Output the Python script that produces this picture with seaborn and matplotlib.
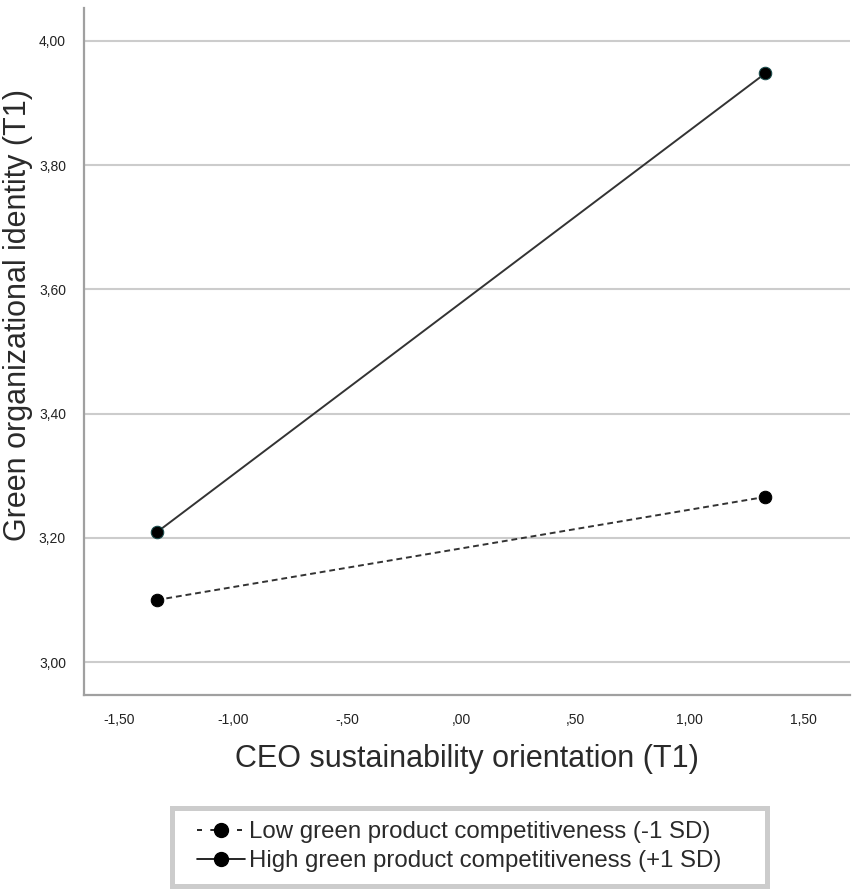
import pandas as pd
import matplotlib.pyplot as plt
import seaborn as sns
from matplotlib.lines import Line2D
from matplotlib.legend_handler import HandlerLine2D

# CEO sustainability orientation at -1 SD / +1 SD
x_values = [-1.335, 1.335]
low_values = [3.10, 3.266]
high_values = [3.209, 3.948]
groups = ['Low green product competitiveness (-1 SD)',
          'High green product competitiveness (+1 SD)']
x_ticks = [-1.5, -1.0, -0.5, 0.0, 0.5, 1.0, 1.5]
x_tick_labels = ['-1,50', '-1,00', '-,50', ',00', ',50', '1,00', '1,50']
y_ticks = [3.0, 3.2, 3.4, 3.6, 3.8, 4.0]
y_tick_labels = ['3,00', '3,20', '3,40', '3,60', '3,80', '4,00']

df = pd.DataFrame({
    'x': x_values * 2,
    'y': low_values + high_values,
    'group': [groups[0]] * 2 + [groups[1]] * 2,
})

sns.set_style('white')
plt.rcParams['font.family'] = ['Liberation Sans', 'DejaVu Sans']

fig = plt.figure(figsize=(8.53, 8.93), dpi=100)
ax = fig.add_axes([0.0985, 0.2217, 0.898, 0.7693])

sns.lineplot(data=df, x='x', y='y', hue='group', style='group',
             palette={groups[0]: '#333333', groups[1]: '#333333'},
             dashes={groups[0]: (3, 2), groups[1]: ''},
             markers={groups[0]: 'o', groups[1]: 'o'},
             markersize=9, markerfacecolor='black', markeredgecolor='black',
             linewidth=1.4, ax=ax, legend=False)
# teal-ish edge on the high group markers
ax.lines[1].set_markeredgecolor('#1a4d4d')

ax.set_xlim(-1.654, 1.706)
ax.set_ylim(2.947, 4.053)
ax.set_xticks(x_ticks)
ax.set_xticklabels(x_tick_labels, fontsize=10, color='#222222')
ax.set_yticks(y_ticks)
ax.set_yticklabels(y_tick_labels, fontsize=10, color='#222222')
ax.tick_params(length=0, pad=13)
ax.yaxis.grid(True, color='#cccccc', linewidth=1.5)
ax.set_axisbelow(True)
for side in ['top', 'right']:
    ax.spines[side].set_visible(False)
for side in ['left', 'bottom']:
    ax.spines[side].set_color('#a0a0a0')
    ax.spines[side].set_linewidth(1.6)

ax.set_xlabel('CEO sustainability orientation (T1)', fontsize=22, color='#2a2a2a', labelpad=12)
ax.set_ylabel('Green organizational identity (T1)', fontsize=22, color='#2a2a2a')
ax.yaxis.set_label_coords(-0.0666, 0.553)

handles = [Line2D([], [], color='black', linestyle=(0, (3, 5)), marker='o',
                  markersize=10, linewidth=1.2),
           Line2D([], [], color='black', linestyle='-', marker='o',
                  markersize=10, linewidth=1.2)]
leg = fig.legend(handles, groups, loc='upper left',
                 bbox_to_anchor=(172 / 853, 3 / 893, 595 / 853, 82 / 893),
                 mode='expand', fontsize=17.3, frameon=True, fancybox=False,
                 handlelength=2.5, handletextpad=0.15, borderpad=0.55,
                 labelspacing=0.3, borderaxespad=0,
                 handler_map={Line2D: HandlerLine2D(xpad=0.5)})
leg.get_frame().set_edgecolor('#c0c0c0')
leg.get_frame().set_linewidth(3.6)
for t in leg.get_texts():
    t.set_color('#2a2a2a')

fig.savefig('out.png', dpi=100)
plt.close()
